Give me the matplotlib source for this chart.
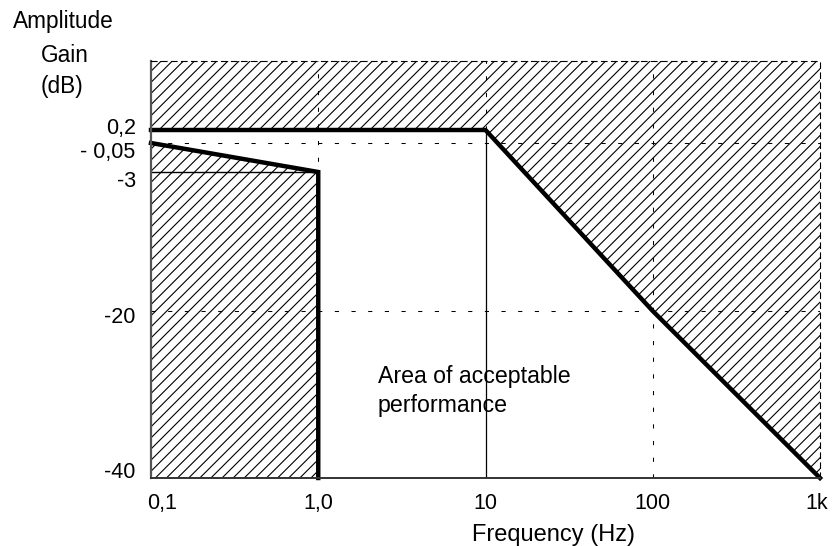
import numpy as np
import matplotlib
matplotlib.use("Agg")
import matplotlib.pyplot as plt
import matplotlib.transforms as mtransforms

plt.rcParams['font.family'] = ['Liberation Sans', 'DejaVu Sans']
plt.rcParams['hatch.linewidth'] = 0.8

# ---- data ----
x_ticks = [0.1, 1.0, 10, 100, 1000]
x_tick_labels = ["0,1", "1,0", "10", "100", "1k"]
y_ticks = [0.2, -0.05, -3, -20, -40]
y_tick_labels = ["0,2", "- 0,05", "-3", "-20", "-40"]

upper_freq = [0.1, 10, 100, 1000]
upper_gain = [0.2, 0.2, -20, -40]
lower_freq = [0.1, 1.0, 1.0]
lower_gain = [-0.05, -3, -40]
y_top = 1.0
y_bottom = -40

# ---- non-uniform amplitude scale (expanded near 0 dB) ----
_knots_db = [-40, -20, -3, -0.05, 0.2, 1.0]
_knots_pos = [0, 167, 306, 335, 348, 417]


def _fwd(v):
    return np.interp(v, _knots_db, _knots_pos)


def _inv(p):
    return np.interp(p, _knots_pos, _knots_db)


fig = plt.figure(figsize=(8.33, 5.46), dpi=100)
ax = fig.add_axes([151 / 833, 1 - 478 / 546, (820 - 151) / 833, (478 - 61) / 546])
ax.set_xscale('log')
ax.set_yscale('function', functions=(_fwd, _inv))
ax.set_xlim(x_ticks[0], x_ticks[-1])
ax.set_ylim(y_bottom, y_top)

# hatched forbidden regions
ax.fill_between(upper_freq, upper_gain, [y_top] * len(upper_freq),
                facecolor='none', edgecolor='black', linewidth=0, hatch='///')
ax.fill_between(lower_freq[:2], lower_gain[:2], [y_bottom, y_bottom],
                facecolor='none', edgecolor='black', linewidth=0, hatch='///')

dash = (0, (4, 12))
lw_thin = 0.75
# dashed grid lines
for xv in [1.0, 100]:
    ax.plot([xv, xv], [y_bottom, y_top], color='black', lw=lw_thin, linestyle=dash)
ax.plot([10, 10], [upper_gain[0], y_top], color='black', lw=lw_thin, linestyle=dash)
ax.plot([10, 10], [y_bottom, upper_gain[0]], color='black', lw=0.9)
for yv in [-0.05, -20]:
    ax.plot([x_ticks[0], x_ticks[-1]], [yv, yv], color='black', lw=lw_thin, linestyle=dash)
# solid -3 dB line in the low-frequency region
ax.plot([0.1, 1.0], [-3, -3], color='black', lw=1.0)

# thick limit lines
ax.plot(upper_freq, upper_gain, color='black', lw=3.2, solid_joinstyle='miter', clip_on=False)
ax.plot(lower_freq, lower_gain, color='black', lw=3.2, solid_joinstyle='miter', clip_on=False)

# spines
for s in ['top', 'right']:
    ax.spines[s].set_linestyle((0, (5, 4)))
    ax.spines[s].set_linewidth(0.8)
ax.spines['left'].set_color('#555555')
ax.spines['left'].set_linewidth(1.6)
ax.spines['bottom'].set_color('#333333')
ax.spines['bottom'].set_linewidth(1.4)

# ticks
ax.set_xticks(x_ticks)
ax.set_xticklabels(x_tick_labels)
ax.xaxis.set_minor_locator(matplotlib.ticker.NullLocator())
ax.set_yticks(y_ticks)
ax.set_yticklabels(y_tick_labels)
ax.yaxis.set_minor_locator(matplotlib.ticker.NullLocator())
ax.tick_params(axis='both', length=0, labelsize=15.5)
ax.tick_params(axis='x', pad=11)
ax.tick_params(axis='y', pad=11)

# small per-label nudges as in the reference
xl = ax.get_xticklabels()
xl[0].set_transform(xl[0].get_transform() + mtransforms.ScaledTranslation(11 / 100, 0, fig.dpi_scale_trans))
xl[-1].set_transform(xl[-1].get_transform() + mtransforms.ScaledTranslation(-3 / 100, 0, fig.dpi_scale_trans))
y_offsets = [4, -7, -7, -4, 8]
for lab, off in zip(ax.get_yticklabels(), y_offsets):
    lab.set_transform(lab.get_transform() + mtransforms.ScaledTranslation(0, off / 100, fig.dpi_scale_trans))

# texts
fig.text(378 / 833, 1 - 383 / 546, "Area of acceptable",
         fontsize=16.7, ha='left', va='baseline')
fig.text(378 / 833, 1 - 412 / 546, "performance",
         fontsize=16.7, ha='left', va='baseline')
fig.text(553 / 833, 1 - 541 / 546, "Frequency (Hz)", fontsize=17, ha='center', va='baseline')
fig.text(63 / 833, 1 - 28 / 546, "Amplitude", fontsize=16.3, ha='center', va='baseline')
fig.text(41 / 833, 1 - 62 / 546, "Gain", fontsize=16.3, ha='left', va='baseline')
fig.text(41 / 833, 1 - 93 / 546, "(dB)", fontsize=16.3, ha='left', va='baseline')

fig.savefig("out.png", dpi=100)
